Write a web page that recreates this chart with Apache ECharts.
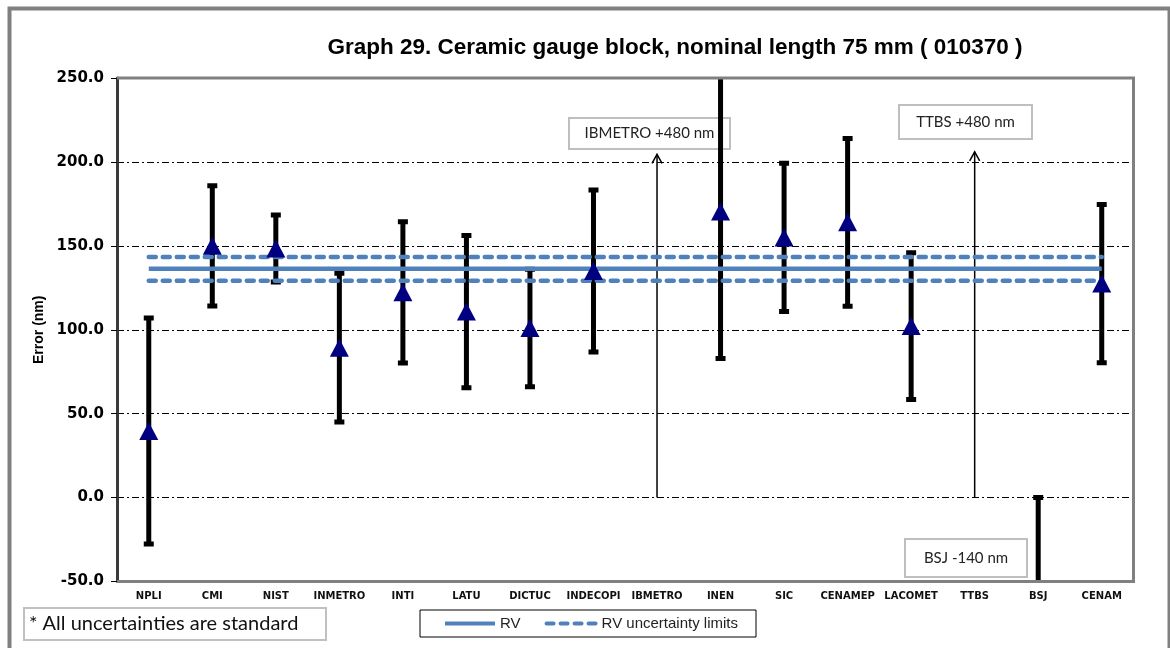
<!DOCTYPE html>
<html>
<head>
<meta charset="utf-8">
<script src="https://cdn.jsdelivr.net/npm/echarts@6/dist/echarts.min.js"></script>
<style>
html,body{margin:0;padding:0;background:#fff;}
#chart{width:1170px;height:648px;}
</style>
</head>
<body>
<div id="chart"></div>
<script>
// ---- data ----
const categories = ['NPLI','CMI','NIST','INMETRO','INTI','LATU','DICTUC','INDECOPI','IBMETRO','INEN','SIC','CENAMEP','LACOMET','TTBS','BSJ','CENAM'];
const errorValues = [39.7, 150, 148.4, 89.3, 122.3, 110.8, 101, 135, 480, 170.5, 155, 164, 102.2, 480, -140, 127.5];
const uncertainties = [67.3, 35.8, 20, 44.3, 42.1, 45.3, 35, 48.3, null, 87.7, 44.2, 50, 43.7, null, 140, 47.2];
const rvEnds = ['NPLI', 'CENAM'];
const rvValue = [136.4, 136.4];
const rvUpper = [143.4, 143.4];
const rvLower = [129.2, 129.2];
const arrowCats = ['IBMETRO', 'TTBS'];
const arrowFrom = [0, 0];
const arrowTo = [204.5, 206];
const yTicks = [-50, 0, 50, 100, 150, 200, 250];
const titleText = 'Graph 29. Ceramic gauge block, nominal length 75 mm ( 010370 )';
const yAxisName = 'Error (nm)';
const annotationTexts = ['IBMETRO +480 nm', 'TTBS +480 nm', 'BSJ -140 nm'];
const noteText = '* All uncertainties are standard';
const legendNames = ['RV', 'RV uncertainty limits'];

// ---- build ----
const errData = [];
categories.forEach((c, i) => {
  if (uncertainties[i] != null) errData.push([i, errorValues[i], uncertainties[i]]);
});
const pointData = categories.map((c, i) => [i, errorValues[i]]);
const arrowData = arrowCats.map((c, i) => [categories.indexOf(c), arrowFrom[i], arrowTo[i]]);

const GRID = {left: 117, top: 78, right: 36.5, bottom: 66.5};
const chart = echarts.init(document.getElementById('chart'), null, {renderer: 'canvas'});

function annBox(x, y, w, h, text, fontSize) {
  return {
    type: 'group', left: x, top: y, z: 60,
    children: [
      {type: 'rect', shape: {x: 0, y: 0, width: w, height: h}, style: {fill: '#fff', stroke: '#bfbfbf', lineWidth: 2}},
      {type: 'text', x: w / 2, y: h / 2, style: {text: text, fill: '#222', font: fontSize + 'px Lato', align: 'center', verticalAlign: 'middle'}}
    ]
  };
}

const option = {
  backgroundColor: '#fff',
  animation: false,
  title: {
    text: titleText, left: 670, top: 31, textAlign: 'center',
    textStyle: {fontFamily: 'Liberation Sans', fontWeight: 'bold', fontSize: 22.5, color: '#000'}
  },
  legend: {
    data: legendNames,
    left: 420, top: 610,
    borderColor: '#000', borderWidth: 1,
    padding: [6, 18, 6, 23],
    itemWidth: 50, itemHeight: 12, itemGap: 24,
    itemStyle: {opacity: 0},
    lineStyle: {width: 4},
    textStyle: {fontFamily: 'Liberation Sans', fontSize: 15, color: '#222'}
  },
  grid: {left: GRID.left, top: GRID.top, right: GRID.right, bottom: GRID.bottom, show: false},
  xAxis: {
    type: 'category', data: categories, boundaryGap: true,
    axisLine: {show: false}, axisTick: {show: false},
    axisLabel: {interval: 0, margin: 10, fontFamily: 'DejaVu Sans', fontWeight: 'bold', fontSize: 10, color: '#111'},
    splitLine: {show: false}
  },
  yAxis: {
    type: 'value', min: yTicks[0], max: yTicks[yTicks.length - 1], interval: 50,
    name: yAxisName, nameLocation: 'middle', nameGap: 55, nameRotate: 90,
    nameTextStyle: {fontFamily: 'Liberation Sans', fontWeight: 'bold', fontSize: 14, color: '#000'},
    axisLine: {show: true, lineStyle: {color: '#3a3a3a', width: 3}},
    axisTick: {show: true, length: 6, lineStyle: {color: '#000', width: 1}},
    axisLabel: {margin: 13, formatter: v => v.toFixed(1), fontFamily: 'DejaVu Sans', fontWeight: 'bold', fontSize: 15, color: '#000'},
    splitLine: {show: true, lineStyle: {color: '#000', width: 1, type: [7, 3, 2, 3]}}
  },
  series: [
    {
      type: 'custom', name: 'err', z: 2, clip: true,
      data: errData, encode: {x: 0, y: 1},
      renderItem: function (params, api) {
        const cat = api.value(0), v = api.value(1), u = api.value(2);
        const x = api.coord([cat, v])[0];
        const yT = api.coord([cat, v + u])[1];
        const yB = api.coord([cat, v - u])[1];
        return {
          type: 'group',
          children: [
            {type: 'line', shape: {x1: x, y1: yT, x2: x, y2: yB}, style: {stroke: '#000', lineWidth: 5}},
            {type: 'rect', shape: {x: x - 5, y: yT - 2.5, width: 10, height: 5}, style: {fill: '#000'}},
            {type: 'rect', shape: {x: x - 5, y: yB - 2.5, width: 10, height: 5}, style: {fill: '#000'}}
          ]
        };
      }
    },
    {
      type: 'line', name: 'RV', z: 3, symbol: 'none',
      data: rvEnds.map((c, i) => [c, rvValue[i]]),
      lineStyle: {color: '#4F81BD', width: 4.5}, itemStyle: {color: '#4F81BD'}
    },
    {
      type: 'line', name: 'RV uncertainty limits', z: 3, symbol: 'none',
      data: rvEnds.map((c, i) => [c, rvUpper[i]]),
      lineStyle: {color: '#4F81BD', width: 4.5, type: [7, 7], cap: 'round'}, itemStyle: {color: '#4F81BD'}
    },
    {
      type: 'line', name: 'RV uncertainty limits', z: 3, symbol: 'none',
      data: rvEnds.map((c, i) => [c, rvLower[i]]),
      lineStyle: {color: '#4F81BD', width: 4.5, type: [7, 7], cap: 'round'}, itemStyle: {color: '#4F81BD'}
    },
    {
      type: 'custom', name: 'arrows', z: 3, clip: true,
      data: arrowData, encode: {x: 0, y: 1},
      renderItem: function (params, api) {
        const cat = api.value(0);
        const p0 = api.coord([cat, api.value(1)]);
        const p1 = api.coord([cat, api.value(2)]);
        return {
          type: 'group',
          children: [
            {type: 'line', shape: {x1: p0[0], y1: p0[1], x2: p1[0], y2: p1[1]}, style: {stroke: '#000', lineWidth: 1.5}},
            {type: 'polyline', shape: {points: [[p1[0] - 5, p1[1] + 9], [p1[0], p1[1]], [p1[0] + 5, p1[1] + 9]]}, style: {stroke: '#000', lineWidth: 1.5, fill: null}}
          ]
        };
      }
    },
    {
      type: 'scatter', name: 'value', z: 5, clip: true,
      data: pointData, symbol: 'triangle', symbolSize: [19, 18],
      itemStyle: {color: '#000080', opacity: 1}
    }
  ],
  graphic: [
    {type: 'rect', left: 7, top: 6, z: 50, shape: {x: 0, y: 0, width: 1160, height: 700}, style: {fill: null, stroke: '#808080', lineWidth: 4}},
    {type: 'polyline', z: 50, shape: {points: [[117, 78], [1133.5, 78], [1133.5, 581.5], [117, 581.5]]}, style: {stroke: '#808080', lineWidth: 3, fill: null}},
    annBox(568, 117, 161, 31, annotationTexts[0], 15),
    annBox(898, 104, 133, 34, annotationTexts[1], 15),
    annBox(904, 538, 122, 38, annotationTexts[2], 15),
    {
      type: 'group', left: 23, top: 607, z: 60,
      children: [
        {type: 'rect', shape: {x: 0, y: 0, width: 302, height: 32}, style: {fill: '#fff', stroke: '#c0c0c0', lineWidth: 2}},
        {type: 'text', x: 5, y: 16, style: {text: noteText, fill: '#111', font: '20px Lato', align: 'left', verticalAlign: 'middle'}}
      ]
    }
  ]
};
chart.setOption(option);
</script>
</body>
</html>
